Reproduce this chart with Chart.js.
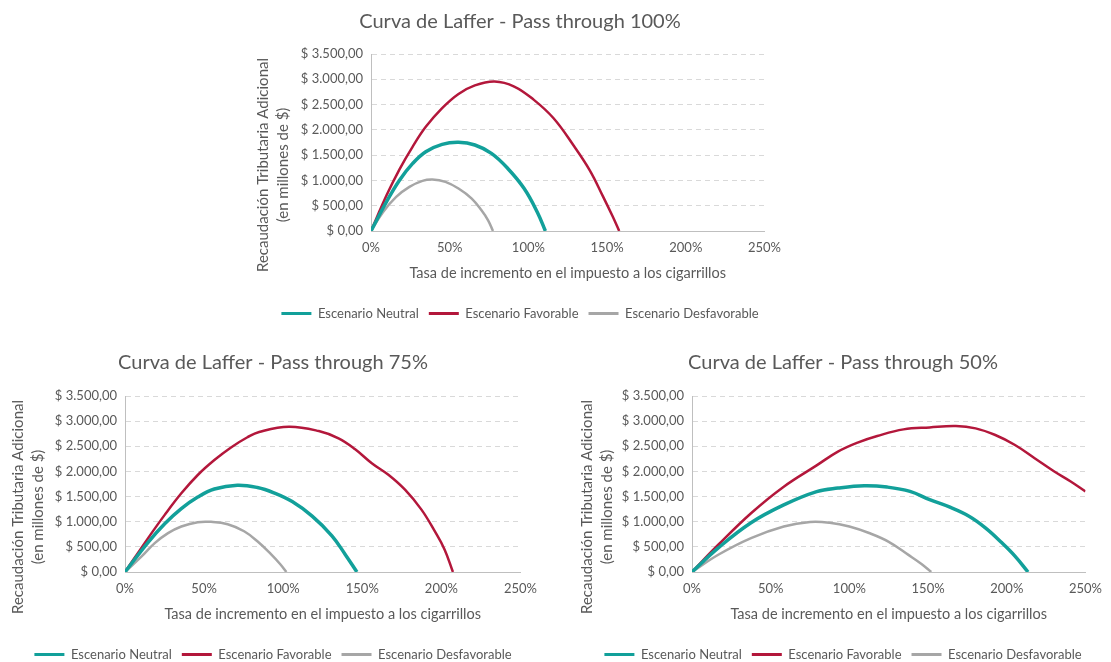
<!DOCTYPE html>
<html lang="es">
<head>
<meta charset="utf-8">
<title>Curva de Laffer</title>
<script src="https://cdn.jsdelivr.net/npm/chart.js@4.4.1/dist/chart.umd.min.js"></script>
<style>
  html, body { margin: 0; padding: 0; background: #fff; overflow: hidden; }
  body { width: 1111px; height: 662px; position: relative; }
  canvas { position: absolute; }
</style>
</head>
<body>
<canvas id="chart100" width="540" height="330" style="left:250px;top:0px"></canvas>
<canvas id="chart75" width="546" height="326" style="left:0px;top:345px"></canvas>
<canvas id="chart50" width="536" height="326" style="left:575px;top:345px"></canvas>
<script>
/* ==============================
   DATOS
============================== */
const seriesNames = ["Escenario Neutral", "Escenario Favorable", "Escenario Desfavorable"];
const xTicksPct = [0, 50, 100, 150, 200, 250];
const yTicksMoney = [0, 500, 1000, 1500, 2000, 2500, 3000, 3500];
const xAxisTitle = "Tasa de incremento en el impuesto a los cigarrillos";
const yAxisTitle = ["Recaudación Tributaria Adicional", "(en millones de $)"];

// Pass through 100%
const rates100Neutral = [0, 9.8, 18.1, 26.5, 34.8, 45.2, 55.6, 66, 76.5, 86.9, 97.3, 105.6, 110.8];
const rev100Neutral   = [0, 575, 1005, 1336, 1567, 1713, 1753, 1700, 1534, 1237, 840, 377, 0];
const rates100Fav     = [0, 9.8, 18.1, 26.5, 34.8, 45.2, 55.6, 66, 78.5, 91, 103.5, 116, 128.5, 139, 147.3, 153.5, 157.7];
const rev100Fav       = [0, 700, 1220, 1670, 2060, 2430, 2710, 2880, 2956, 2857, 2593, 2229, 1700, 1200, 690, 290, 0];
const rates100Desf    = [0, 7.7, 16, 24.4, 32.7, 39, 47.3, 55.6, 64, 70.2, 74.4, 77.5];
const rev100Desf      = [0, 377, 675, 873, 992, 1019, 972, 840, 642, 410, 212, 0];

// Pass through 75%
const rates75Neutral = [0, 14.6, 25.1, 35.6, 46, 56.5, 71, 83.7, 94.1, 105.7, 118.3, 130.8, 139.2, 146.6];
const rev75Neutral   = [0, 590, 960, 1260, 1490, 1650, 1725, 1680, 1575, 1400, 1110, 720, 350, 0];
const rates75Fav     = [0, 14.6, 25.1, 35.6, 46, 56.5, 67, 77.4, 84.8, 103.6, 122.5, 135, 145.5, 156, 166.5, 177, 187.4, 195.8, 202, 207.3];
const rev75Fav       = [0, 674, 1136, 1565, 1929, 2226, 2477, 2680, 2785, 2889, 2803, 2658, 2441, 2164, 1933, 1636, 1240, 811, 449, 0];
const rates75Desf    = [0, 10.5, 18.8, 27.2, 35.6, 46, 54.4, 64.9, 75.3, 83.7, 92.1, 98.3, 102];
const rev75Desf      = [0, 310, 575, 773, 905, 991, 997, 950, 810, 610, 360, 150, 0];

// Pass through 50%
const rates50Neutral = [0, 16.7, 37.5, 58.3, 79.2, 92.7, 109.4, 124, 138.5, 151, 163.5, 176, 186.4, 196.9, 205.2, 213.5];
const rev50Neutral   = [0, 480, 980, 1334, 1598, 1669, 1715, 1689, 1603, 1438, 1293, 1108, 877, 580, 317, 0];
const rates50Fav     = [0, 16.7, 37.5, 58.3, 79.2, 92.7, 105.2, 117.7, 134.4, 151, 167.7, 180.2, 192.7, 205.2, 217.7, 230.2, 240.6, 250];
const rev50Fav       = [0, 542, 1169, 1697, 2120, 2394, 2573, 2704, 2836, 2876, 2902, 2856, 2724, 2526, 2263, 1999, 1801, 1603];
const rates50Desf    = [0, 16.7, 37.5, 58.3, 75, 87.5, 100, 112.5, 125, 137.5, 145.8, 152];
const rev50Desf      = [0, 343, 674, 905, 995, 980, 905, 775, 600, 340, 160, 0];

/* ==============================
   ESTILO
============================== */
const TEXT = "#595959";
const COLORS = ["#12a09a", "#b3173b", "#a6a6a6"];
const WIDTHS = [3.5, 2.5, 2.5];

Chart.defaults.font.family = "Lato, 'Open Sans', sans-serif";
Chart.defaults.color = TEXT;

function money(v) {
  const s = String(Math.round(v)).replace(/\B(?=(\d{3})+(?!\d))/g, ".");
  return "$ " + s + ",00";
}

function points(rates, rev) {
  return rates.map((r, i) => ({ x: r, y: rev[i] }));
}

// título vertical del eje Y (dos líneas, centrado como en Excel)
const yTitlePlugin = {
  id: "yTitle",
  afterDraw(chart, args, opts) {
    const ctx = chart.ctx;
    ctx.save();
    ctx.font = "15px Lato, 'Open Sans', sans-serif";
    ctx.fillStyle = TEXT;
    ctx.textAlign = "center";
    ctx.textBaseline = "middle";
    opts.lines.forEach((t, i) => {
      ctx.save();
      ctx.translate(opts.x[i], opts.y);
      ctx.rotate(-Math.PI / 2);
      ctx.fillText(t, 0, 0);
      ctx.restore();
    });
    ctx.restore();
  }
};

function makeChart(id, title, series, geo) {
  const ctx = document.getElementById(id).getContext("2d");
  return new Chart(ctx, {
    type: "line",
    data: {
      datasets: series.map((s, i) => ({
        label: seriesNames[i],
        data: points(s[0], s[1]),
        borderColor: COLORS[i],
        backgroundColor: COLORS[i],
        borderWidth: WIDTHS[i],
        pointRadius: 0,
        fill: false,
        tension: 0.4
      }))
    },
    options: {
      responsive: false,
      animation: false,
      events: [],
      layout: { padding: { left: geo.pad, right: geo.pad, top: 0, bottom: 0 } },
      plugins: {
        title: {
          display: true,
          text: title,
          color: TEXT,
          font: { size: 20, weight: "normal" },
          padding: geo.titlePad
        },
        legend: {
          position: "bottom",
          labels: {
            boxWidth: 30,
            boxHeight: 3,
            padding: 10,
            color: TEXT,
            font: { size: 13 },
            generateLabels: (chart) =>
              Chart.defaults.plugins.legend.labels.generateLabels(chart).map((l) => ({
                ...l,
                fillStyle: l.strokeStyle,
                lineWidth: 0
              }))
          }
        },
        tooltip: { enabled: false },
        yTitle: { lines: yAxisTitle, x: geo.yTitleX, y: geo.yTitleY }
      },
      scales: {
        x: {
          type: "linear",
          min: 0,
          max: 250,
          afterBuildTicks: (s) => { s.ticks = xTicksPct.map((v) => ({ value: v })); },
          afterFit: (s) => { s.height = 66; },
          ticks: { callback: (v) => v + "%", padding: 9, font: { size: 13 }, autoSkip: false, maxRotation: 0 },
          grid: { display: false, drawTicks: false },
          border: { display: true, color: "#bfbfbf", width: 1 },
          title: { display: true, text: xAxisTitle, font: { size: 14.5 }, padding: { top: 0, bottom: 15 } }
        },
        y: {
          min: 0,
          max: 3500,
          afterBuildTicks: (s) => { s.ticks = yTicksMoney.map((v) => ({ value: v })); },
          afterFit: (s) => { s.width = geo.yWidth; },
          ticks: { callback: (v) => money(v), padding: 8, font: { size: 13 } },
          grid: { color: "#d9d9d9", drawTicks: false },
          border: { display: true, color: "#bfbfbf", width: 1, dash: [5, 4] }
        }
      }
    },
    plugins: [yTitlePlugin]
  });
}

/* ==============================
   GRÁFICOS
============================== */
makeChart("chart100", "Curva de Laffer - Pass through 100%",
  [[rates100Neutral, rev100Neutral], [rates100Fav, rev100Fav], [rates100Desf, rev100Desf]],
  { pad: 19, yWidth: 102, titlePad: { top: 10, bottom: 20 }, yTitleX: [13, 33], yTitleY: 165 });

makeChart("chart75", "Curva de Laffer - Pass through 75%",
  [[rates75Neutral, rev75Neutral], [rates75Fav, rev75Fav], [rates75Desf, rev75Desf]],
  { pad: 23, yWidth: 102, titlePad: { top: 6, bottom: 21 }, yTitleX: [18, 38], yTitleY: 162 });

makeChart("chart50", "Curva de Laffer - Pass through 50%",
  [[rates50Neutral, rev50Neutral], [rates50Fav, rev50Fav], [rates50Desf, rev50Desf]],
  { pad: 19, yWidth: 98, titlePad: { top: 6, bottom: 21 }, yTitleX: [12, 32], yTitleY: 162 });
</script>
</body>
</html>
